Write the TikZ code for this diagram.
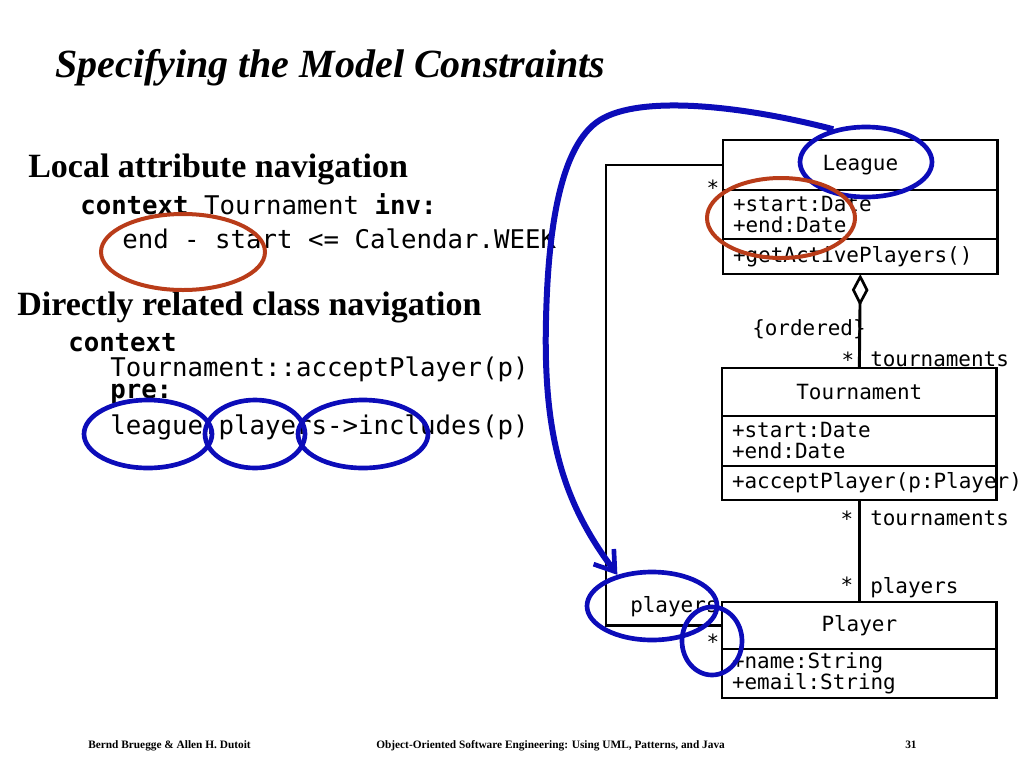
\documentclass[tikz,border=0pt]{standalone}
\usepackage{fontspec}
\setmainfont{Liberation Serif}
\newfontfamily\codefont{DejaVu Sans Mono}
\usepackage{tikz}
\usetikzlibrary{positioning}
\usetikzlibrary{arrows.meta}
\usetikzlibrary{shapes,calc}
\definecolor{penblue}{RGB}{12,12,185}
\definecolor{penred}{RGB}{185,60,25}
\newcommand{\umlfont}{\codefont\fontsize{15.7}{15.75}\selectfont}
\newcommand{\oclfont}{\codefont\fontsize{19.3}{20}\selectfont}
\tikzset{uml box/.style={draw,line width=2.2pt,outer sep=0pt,minimum width=206pt,inner xsep=7.5pt,inner ysep=0pt,text width=191pt,align=left,font=\umlfont},
  uml name/.style={uml box,align=center},
  blue mark/.style={ellipse,draw=penblue,line width=3.5pt,inner sep=0pt},
  red mark/.style={ellipse,draw=penred,line width=3pt,inner sep=0pt},
  assoc/.style={draw,line width=2.2pt},
  role/.style={anchor=base west,inner sep=0pt,font=\umlfont},
  mult/.style={anchor=base,inner sep=0pt,font=\umlfont},
  ocl/.style={anchor=base west,inner sep=0pt,font=\oclfont},
  heading/.style={anchor=base west,inner sep=0pt,font=\fontsize{25.5}{30}\selectfont\bfseries},
  footer/.style={anchor=base west,inner sep=0pt,font=\fontsize{8.5}{10}\selectfont\bfseries}}

\begin{document}
\begin{tikzpicture}[x=0.75pt,y=-0.75pt]
    \useasboundingbox (0,0) rectangle (1024,768);

    % slide texts
    \node[anchor=base west,inner sep=0pt,font=\fontsize{30}{36}\selectfont\bfseries\itshape] (title) at (55,77) {Specifying the Model Constraints};
    \node[heading] (local) at (28,177) {Local attribute navigation};
    \node[ocl] (inv) at (80,214) {\textbf{context} Tournament \textbf{inv:}};
    \node[ocl] (week) at (122,248) {end - start <= Calendar.WEEK};
    \node[heading] (direct) at (17,315) {Directly related class navigation};
    \node[ocl] (ctx) at (68,351) {\textbf{context}};
    \node[ocl] (accept) at (110,376) {Tournament::acceptPlayer(p)};
    \node[ocl] (pre) at (110,398) {\textbf{pre:}};
    \node[ocl] (incl) at (110,434) {league.players->includes(p)};

    % class diagram
    \node[uml name,anchor=north west,minimum height=37.5pt] (leagueName) at (723,140) {League};
    \node[uml box,minimum height=36.75pt] (leagueAttr) [below=0pt of leagueName] {+start:Date\\+end:Date};
    \node[uml box,minimum height=26.25pt] (leagueOps) [below=0pt of leagueAttr] {+getActivePlayers()};

    \node[uml name,anchor=north west,minimum height=36pt] (tourName) at (722,368) {Tournament};
    \node[uml box,minimum height=37.5pt] (tourAttr) [below=0pt of tourName] {+start:Date\\+end:Date};
    \node[uml box,minimum height=25.5pt] (tourOps) [below=0pt of tourAttr] {+acceptPlayer(p:Player)};

    \node[uml name,anchor=north west,minimum height=35.25pt] (playerName) at (722,602) {Player};
    \node[uml box,minimum height=36.75pt] (playerAttr) [below=0pt of playerName] {+name:String\\+email:String};

    \coordinate (corner) at (606,400);
    \path[assoc]
    (tourName.north) edge [-{Diamond[open,length=24pt,width=12.5pt,line width=2pt]}] (leagueOps.south)
    (tourOps.south) edge (playerName.north);
    \draw[assoc] (leagueName.west) -| (corner) |- (playerName.west);

    \node[mult] (m1) at (713,195) {*};
    \node[role] (ordered) at (752,335) {\{ordered\}};
    \node[mult] (m2) at (848,367) {*};
    \node[role] (r1) at (870,366) {tournaments};
    \node[mult] (m3) at (847,526) {*};
    \node[role] (r2) at (870,525) {tournaments};
    \node[mult] (m4) at (847,592) {*};
    \node[role] (r3) at (870,593) {players};
    \node[role] (r4) at (630,612) {players};
    \node[mult] (m5) at (713,649) {*};

    % hand drawn marks
    \node[red mark,minimum width=123pt,minimum height=57pt] (endMark) at (183,252) {};
    \node[blue mark,minimum width=96pt,minimum height=51pt] (leagueRef) at (148,434) {};
    \node[blue mark,minimum width=75pt,minimum height=51pt] (playersRef) at (255,434) {};
    \node[blue mark,minimum width=97.5pt,minimum height=51pt] (includesRef) at (363,434) {};
    \node[blue mark,minimum width=99pt,minimum height=52.5pt] (leagueMark) at (866,162) {};
    \node[red mark,minimum width=111pt,minimum height=60pt] (dateMark) at (781,218) {};
    \node[blue mark,minimum width=97.5pt,minimum height=51pt] (playersMark) at (652,606) {};
    \node[blue mark,minimum width=45pt,minimum height=51pt] (starMark) at (712,641) {};

    \draw[penblue,line width=4.5pt,-{Straight Barb[length=14pt,width=19pt,line width=3.5pt]}]
    (leagueMark.135) .. controls (740,105) and (640,95) .. (600,120)
    .. controls (560,145) and (548,230) .. (546,320)
    .. controls (543,440) and (565,505) .. (playersMark.138);

    % footer
    \node[footer] (authors) at (88,748) {Bernd Bruegge \& Allen H. Dutoit};
    \node[footer] (book) at (376,748) {Object-Oriented Software Engineering: Using UML, Patterns, and Java};
    \node[footer] (page) at (905,748) {31};
\end{tikzpicture}
\end{document}
